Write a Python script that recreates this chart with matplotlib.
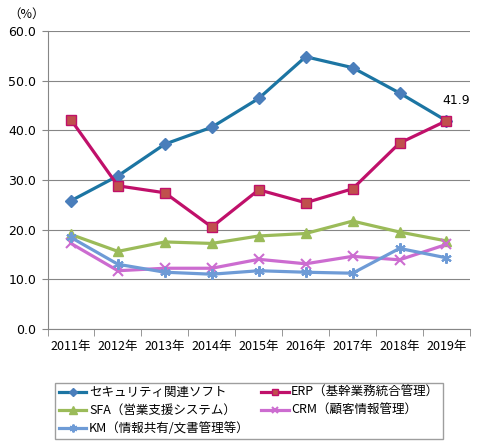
import matplotlib
matplotlib.use('Agg')
import matplotlib.pyplot as plt

plt.rcParams['font.family'] = ['Noto Sans CJK JP', 'DejaVu Sans']

years = ['2011年', '2012年', '2013年', '2014年', '2015年', '2016年', '2017年', '2018年', '2019年']
security = [25.8, 30.8, 37.2, 40.6, 46.4, 54.8, 52.6, 47.5, 41.9]
erp = [42.1, 28.8, 27.4, 20.5, 28.0, 25.4, 28.2, 37.4, 41.9]
sfa = [19.0, 15.6, 17.5, 17.2, 18.7, 19.2, 21.7, 19.5, 17.7]
crm = [17.2, 11.7, 12.2, 12.2, 14.0, 13.1, 14.6, 13.9, 17.0]
km = [18.4, 13.0, 11.4, 11.0, 11.7, 11.4, 11.2, 16.2, 14.3]

names = ['セキュリティ関連ソフト', 'ERP（基幹業務統合管理）', 'SFA（営業支援システム）',
         'CRM（顧客情報管理）', 'KM（情報共有/文書管理等）']

fig = plt.figure(figsize=(4.8, 4.48), dpi=100)
ax = fig.add_axes([0.099, 0.266, 0.88, 0.665])

x = list(range(len(years)))
h1, = ax.plot(x, security, color='#1C75A3', lw=2.3, marker='D', ms=6,
              mfc='#4A7EBB', mec='#4A7EBB', label=names[0])
h2, = ax.plot(x, erp, color='#C0106A', lw=2.3, marker='s', ms=6.5,
              mfc='#C0504D', mec='#C0106A', label=names[1])
h3, = ax.plot(x, sfa, color='#9BBB59', lw=2.3, marker='^', ms=7,
              mfc='#9BBB59', mec='#9BBB59', label=names[2])
h4, = ax.plot(x, crm, color='#CC6CD0', lw=2.3, marker='x', ms=6.5, mew=1.5,
              label=names[3])
h5, = ax.plot(x, km, color='#6E9BD6', lw=2.3, marker=(6, 2, 0), ms=7.5, mew=1.5,
              label=names[4])

ax.annotate('41.9', (x[-1], security[-1]), xytext=(-3, 10), textcoords='offset points',
            fontsize=9, ha='left', va='bottom', family=['DejaVu Sans'])

ax.set_xlim(-0.5, len(years) - 0.5)
ax.set_ylim(0, 60)
ax.set_yticks(range(0, 61, 10))
ax.set_yticklabels([f'{v:.1f}' for v in range(0, 61, 10)], fontsize=9, family=['DejaVu Sans'])
ax.set_xticks(x)
ax.set_xticklabels(years, fontsize=9)
ax.set_xticks([i - 0.5 for i in range(len(years) + 1)], minor=True)
ax.tick_params(axis='x', which='major', length=0, pad=8)
ax.tick_params(axis='x', which='minor', length=5, color='#868686')
ax.tick_params(axis='y', length=4, color='#868686', pad=4)
ax.yaxis.grid(True, color='#868686', lw=0.8)
ax.set_axisbelow(True)
for s in ['top', 'right']:
    ax.spines[s].set_visible(False)
ax.spines['left'].set_color('#868686')
ax.spines['bottom'].set_color('#868686')

fig.text(0.017, 0.968, '（%）', fontsize=9, ha='left', va='center')

fig.legend([h1, h3, h5, h2, h4], [names[0], names[2], names[4], names[1], names[3]],
           ncol=2, loc='lower left', bbox_to_anchor=(0.115, 0.02, 0.808, 0.118),
           mode='expand', fontsize=9, frameon=True, fancybox=False, edgecolor='#868686',
           handlelength=2.2, handletextpad=0.2, borderaxespad=0, labelspacing=0.4,
           columnspacing=0.5, borderpad=0.3, markerscale=0.75)

fig.savefig('out.png', dpi=100)
